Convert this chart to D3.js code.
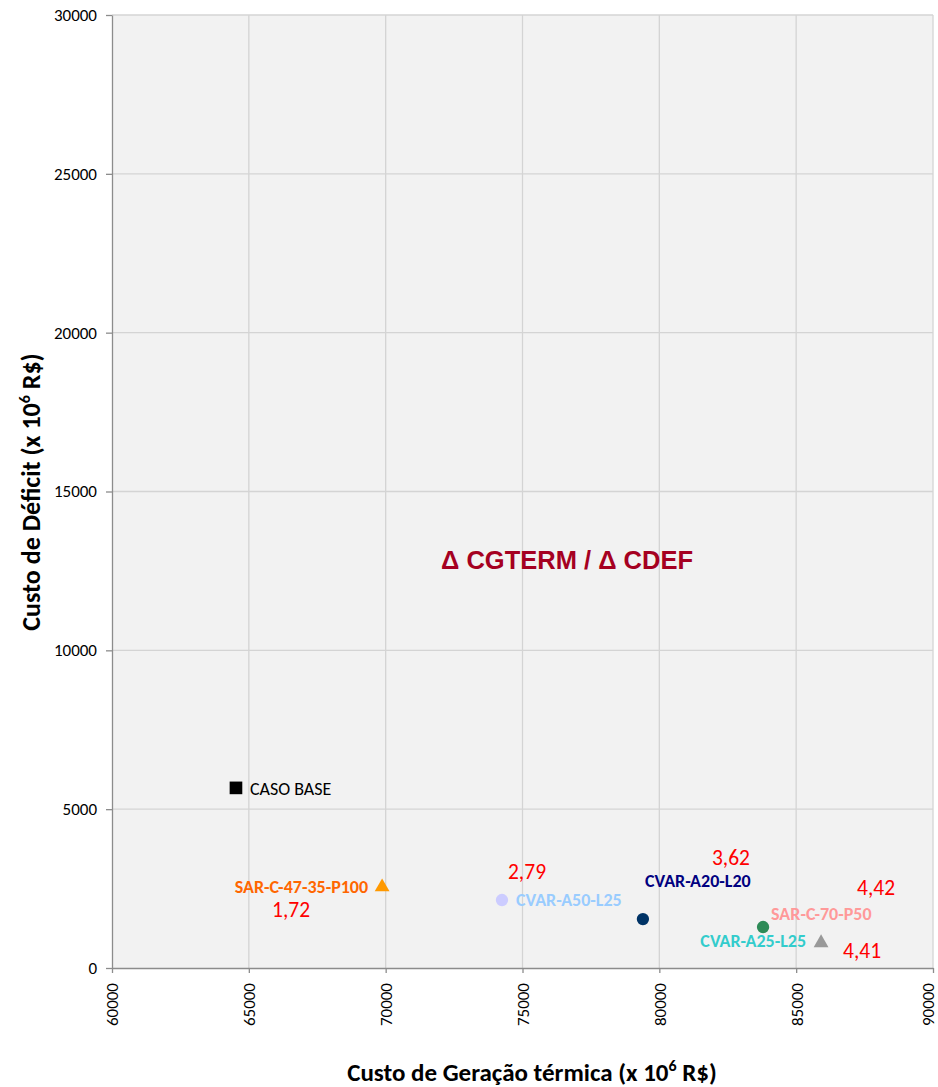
<!DOCTYPE html>
<html>
<head>
<meta charset="utf-8">
<script src="https://cdn.jsdelivr.net/npm/d3@7"></script>
<style>
  body { margin: 0; background: #fff; }
  svg text { font-family: Carlito, Lato, "Open Sans", sans-serif; }
</style>
</head>
<body>
<svg id="chart" width="938" height="1087"></svg>
<script>
// 案例名称
const names = ['CASO BASE', 'SAR-C-47-35-P100', 'CVAR-A50-L25', 'CVAR-A20-L20', 'SAR-C-70-P50', 'CVAR-A25-L25']
// 热力发电成本 (x 10^6 R$)
const cgterm = [64530, 69870, 74250, 79400, 83790, 85910]
// 赤字成本 (x 10^6 R$)
const cdef = [5670, 2550, 2140, 1540, 1290, 790]
// 比值标签
const ratios = ['', '1,72', '2,79', '3,62', '4,42', '4,41']
const xTicks = [60000, 65000, 70000, 75000, 80000, 85000, 90000]
const yTicks = [0, 5000, 10000, 15000, 20000, 25000, 30000]

// 样式及标签偏移
const markStyle = [
    { shape: d3.symbolSquare, size: 160, fill: '#000000', label: '#000000', weight: 'normal', dx: 14, dy: 7, anchor: 'start', rdx: 0, rdy: 0 },
    { shape: d3.symbolTriangle, size: 95, fill: '#ff9900', label: '#ff6600', weight: 'bold', dx: -14, dy: 6, anchor: 'end', rdx: -110, rdy: 30 },
    { shape: d3.symbolCircle, size: 120, fill: '#ccccff', label: '#99ccff', weight: 'bold', dx: 14, dy: 6, anchor: 'start', rdx: 6, rdy: -21 },
    { shape: d3.symbolCircle, size: 120, fill: '#003366', label: '#000080', weight: 'bold', dx: 2, dy: -32, anchor: 'start', rdx: 69, rdy: -54 },
    { shape: d3.symbolCircle, size: 120, fill: '#2e8b57', label: '#ff9999', weight: 'bold', dx: 8, dy: -7, anchor: 'start', rdx: 94, rdy: -32 },
    { shape: d3.symbolTriangle, size: 95, fill: '#999999', label: '#33cccc', weight: 'bold', dx: -15, dy: 4, anchor: 'end', rdx: 22, rdy: 15 }
]

const margin = { left: 112, right: 5, top: 15, bottom: 119 }
const width = 938, height = 1087
const svg = d3.select('#chart')

const x = d3.scaleLinear().domain([60000, 90000]).range([margin.left, width - margin.right])
const y = d3.scaleLinear().domain([0, 30000]).range([height - margin.bottom, margin.top])

// 绘图区背景
svg.append('rect')
    .attr('x', x(60000)).attr('y', y(30000))
    .attr('width', x(90000) - x(60000)).attr('height', y(0) - y(30000))
    .attr('fill', '#f2f2f2')

// 网格线
svg.append('g').selectAll('line').data(xTicks.slice(1)).join('line')
    .attr('x1', (d) => x(d)).attr('x2', (d) => x(d))
    .attr('y1', y(0)).attr('y2', y(30000))
    .attr('stroke', '#d4d4d4').attr('stroke-width', 1.3)
svg.append('g').selectAll('line').data(yTicks.slice(1)).join('line')
    .attr('x1', x(60000)).attr('x2', x(90000))
    .attr('y1', (d) => y(d)).attr('y2', (d) => y(d))
    .attr('stroke', '#d4d4d4').attr('stroke-width', 1.3)

// 坐标轴
const xAxis = svg.append('g')
    .attr('transform', `translate(0,${y(0)})`)
    .call(d3.axisBottom(x).tickValues(xTicks).tickSize(5).tickSizeOuter(0).tickFormat(d3.format('d')))
xAxis.selectAll('text')
    .attr('transform', 'rotate(-90)')
    .attr('text-anchor', 'end')
    // 最右边的标签略向左移，避免被裁掉
    .attr('x', -15).attr('y', (d) => (d === 90000 ? -5 : 0)).attr('dy', '0.35em')
    .attr('font-size', 17).attr('fill', '#000')

const yAxis = svg.append('g')
    .attr('transform', `translate(${x(60000)},0)`)
    .call(d3.axisLeft(y).tickValues(yTicks).tickSize(6).tickSizeOuter(0).tickFormat(d3.format('d')))
yAxis.selectAll('text').attr('font-size', 17).attr('fill', '#000').attr('x', -15)

svg.selectAll('.domain, .tick line').attr('stroke', '#8c8c8c').attr('stroke-width', 1.3)

// 坐标轴标题
const xTitle = svg.append('text')
    .attr('x', 532).attr('y', 1081)
    .attr('text-anchor', 'middle')
    .attr('font-size', 25).attr('font-weight', 'bold')
xTitle.append('tspan').text('Custo de Geração térmica (x 10')
xTitle.append('tspan').attr('font-size', 16).attr('dy', -10).text('6')
xTitle.append('tspan').attr('dy', 10).text(' R$)')

const yTitle = svg.append('text')
    .attr('transform', 'translate(40,492) rotate(-90)')
    .attr('text-anchor', 'middle')
    .attr('font-size', 26).attr('font-weight', 'bold')
yTitle.append('tspan').text('Custo de Déficit (x 10')
yTitle.append('tspan').attr('font-size', 16).attr('dy', -10).text('6')
yTitle.append('tspan').attr('dy', 10).text(' R$)')

// 图内标题
svg.append('text')
    .attr('x', 567).attr('y', 569)
    .attr('text-anchor', 'middle')
    .style('font-family', '"Liberation Sans", Arial, sans-serif')
    .attr('font-size', 25.5).attr('font-weight', 'bold')
    .attr('fill', '#a50021')
    .text('Δ CGTERM / Δ CDEF')

// 数据点
const points = svg.append('g').selectAll('g').data(names).join('g')
    .attr('transform', (d, i) => `translate(${x(cgterm[i])},${y(cdef[i])})`)

points.append('path')
    .attr('d', (d, i) => d3.symbol().type(markStyle[i].shape).size(markStyle[i].size)())
    .attr('fill', (d, i) => markStyle[i].fill)

// 名称标签
points.append('text')
    .attr('x', (d, i) => markStyle[i].dx)
    .attr('y', (d, i) => markStyle[i].dy)
    .attr('text-anchor', (d, i) => markStyle[i].anchor)
    .attr('font-size', 18)
    .attr('font-weight', (d, i) => markStyle[i].weight)
    .attr('fill', (d, i) => markStyle[i].label)
    .text((d) => d)

// 比值标签
points.append('text')
    .attr('x', (d, i) => markStyle[i].rdx)
    .attr('y', (d, i) => markStyle[i].rdy)
    .attr('font-size', 21.5)
    .attr('fill', '#ff0000')
    .text((d, i) => ratios[i])
</script>
</body>
</html>
